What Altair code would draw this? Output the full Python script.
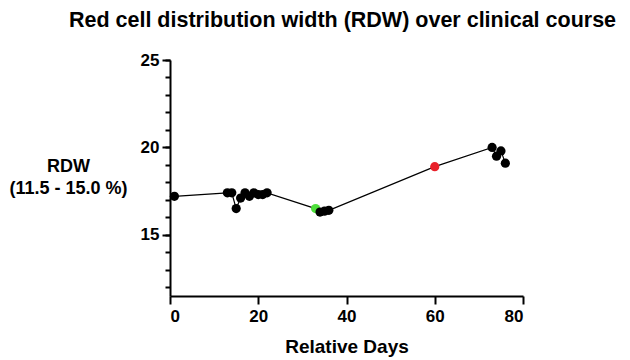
import altair as alt
import pandas as pd

days = [1, 13, 14, 15, 16, 17, 18, 19, 20, 21, 22, 33, 34, 35, 36, 60, 73, 74, 75, 76]
rdw = [17.2, 17.4, 17.4, 16.5, 17.1, 17.4, 17.2, 17.4, 17.3, 17.3, 17.4,
       16.5, 16.3, 16.35, 16.4, 18.9, 20.0, 19.5, 19.8, 19.1]
group = ["n"] * 11 + ["g"] + ["n"] * 3 + ["r"] + ["n"] * 4

df = pd.DataFrame({"day": days, "rdw": rdw, "grp": group, "order": list(range(len(days)))})

FONT = "Liberation Sans"
xscale = alt.Scale(domain=[0, 80], nice=False)
yscale = alt.Scale(domain=[11.5, 25], nice=False)

base = alt.Chart(df)

xaxis = alt.Axis(values=[0, 20, 40, 60, 80], title="Relative Days", grid=False,
                 domainColor="black", domainWidth=2, tickColor="black", tickWidth=2,
                 tickSize=8, labelFont=FONT, labelFontSize=17, labelFontWeight="bold",
                 labelColor="black", titleFont=FONT, titleFontSize=19, titleFontWeight="bold",
                 titleColor="black", titlePadding=13, labelPadding=4)

yaxis_major = alt.Axis(values=[15, 20, 25], title=["RDW", "(11.5 - 15.0 %)"], grid=False, orient="left",
                       domainColor="black", domainWidth=2, tickColor="black", tickWidth=2,
                       tickSize=8, labelFont=FONT, labelFontSize=17, labelFontWeight="bold",
                       labelColor="black", titleFont=FONT, titleFontSize=18, titleFontWeight="bold",
                       titleColor="black", titleAngle=0, titleAlign="center", titleBaseline="top",
                       titleX=-102, titleY=97, titleLineHeight=22, labelPadding=3)

yaxis_minor = alt.Axis(values=list(range(12, 26)), title=None, grid=False, orient="left",
                       labels=False, domain=False, tickColor="black", tickWidth=2, tickSize=5)

line = base.mark_line(color="black", strokeWidth=1.2).encode(
    x=alt.X("day:Q", scale=xscale, axis=xaxis),
    y=alt.Y("rdw:Q", scale=yscale, axis=yaxis_major),
    order="order:Q",
)

minor = base.mark_point(opacity=0).encode(
    x=alt.X("day:Q", scale=xscale),
    y=alt.Y("rdw:Q", scale=yscale, axis=yaxis_minor),
)

points = base.mark_circle(size=85, opacity=1).encode(
    x=alt.X("day:Q", scale=xscale),
    y=alt.Y("rdw:Q", scale=yscale, axis=None),
    color=alt.Color("grp:N", scale=alt.Scale(domain=["n", "g", "r"],
                                              range=["black", "#4ee03a", "#e8202a"]), legend=None),
    order="order:Q",
)

chart = alt.layer(line, minor, points).resolve_axis(y="independent").properties(
    width=353, height=236,
    background="white",
    autosize=alt.AutoSizeParams(type="none"),
    padding={"left": 162, "top": 52, "right": 99, "bottom": 62},
    title=alt.TitleParams("Red cell distribution width (RDW) over clinical course",
                          font=FONT, fontSize=21.5, fontWeight="bold", color="black",
                          anchor="middle", frame="group", offset=20, dx=-4),
).configure_view(stroke="transparent", strokeWidth=0).configure_axis(grid=False)

chart.save("out.html", embed_options={"renderer": "svg", "actions": False})
